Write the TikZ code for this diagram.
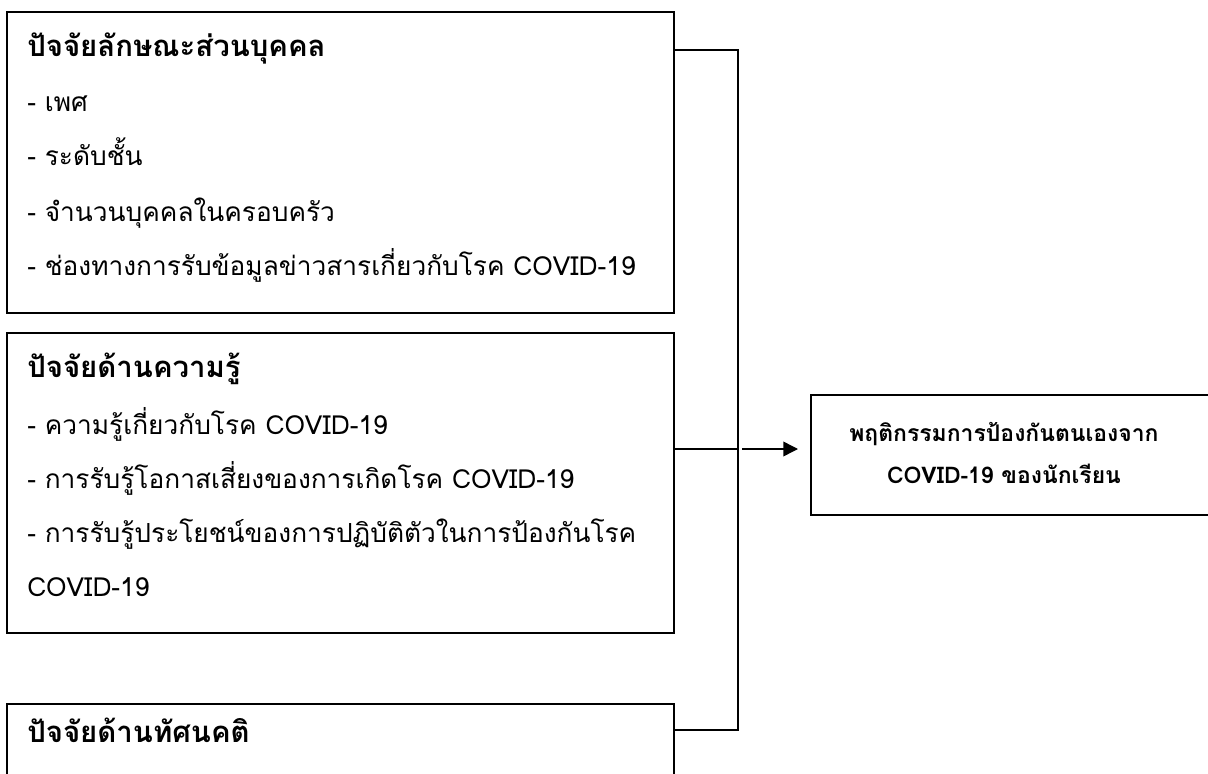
\documentclass[tikz,border=0pt]{standalone}
\usepackage{fontspec}
\setmainfont[Script=Thai]{Loma}
\usetikzlibrary{arrows.meta}
\tikzset{
  frame/.style={draw=black, line width=1.5pt, inner sep=0pt, anchor=north west},
  txt/.style={anchor=base west, inner sep=0pt, font=\fontsize{19.7}{22}\selectfont},
  ttl/.style={anchor=base west, inner sep=0pt, font=\fontsize{22}{26}\selectfont\bfseries},
  ctxt/.style={anchor=base, inner sep=0pt, font=\fontsize{17.2}{20}\selectfont\bfseries},
  conn/.style={draw=black, line width=1.1pt},
  arr/.style={conn, -{Triangle[length=11pt,width=11pt]}, shorten >=9pt}
}
\begin{document}
\begin{tikzpicture}[x=0.75pt,y=-0.75pt]
\useasboundingbox (0,0) rectangle (1208,774);
\clip (0,0) rectangle (1208,774);
% boxes
\node[frame, minimum width=667*0.75pt, minimum height=301*0.75pt] (b1) at (6,11) {};
\node[frame, minimum width=667*0.75pt, minimum height=300*0.75pt] (b2) at (6,332) {};
\node[frame, minimum width=667*0.75pt, minimum height=100*0.75pt] (b3) at (6,703) {};
\node[frame, minimum width=404*0.75pt, minimum height=120*0.75pt] (out) at (810,394) {};
% texts box 1
\node[ttl] (t11) at (27,57) {ปัจจัยลักษณะส่วนบุคคล};
\node[txt] (t12) at (27,112) {- เพศ};
\node[txt] (t13) at (27,166) {- ระดับชั้น};
\node[txt] (t14) at (27,221) {- จำนวนบุคคลในครอบครัว};
\node[txt] (t15) at (27,275) {- ช่องทางการรับข้อมูลข่าวสารเกี่ยวกับโรค COVID-19};
% texts box 2
\node[ttl] (t21) at (27,377) {ปัจจัยด้านความรู้};
\node[txt] (t22) at (27,434) {- ความรู้เกี่ยวกับโรค COVID-19};
\node[txt] (t23) at (27,488) {- การรับรู้โอกาสเสี่ยงของการเกิดโรค COVID-19};
\node[txt] (t24) at (27,542) {- การรับรู้ประโยชน์ของการปฏิบัติตัวในการป้องกันโรค};
\node[txt] (t25) at (27,596) {COVID-19};
% text box 3
\node[ttl] (t31) at (27,742) {ปัจจัยด้านทัศนคติ};
% output text
\node[ctxt] (o1) at (1004,441) {พฤติกรรมการป้องกันตนเองจาก};
\node[ctxt] (o2) at (1004,483) {COVID-19 ของนักเรียน};
% connectors
\coordinate (j1) at (738,50);
\coordinate (j2) at (738,449);
\coordinate (j3) at (738,730);
\coordinate (a0) at (742,449);
\draw[conn] (j1 -| b1.east) -- (j1) -- (j3) -- (j3 -| b3.east);
\draw[conn] (j2 -| b2.east) -- (j2);
\draw[arr] (a0) -- (a0 -| out.west);
\end{tikzpicture}
\end{document}
